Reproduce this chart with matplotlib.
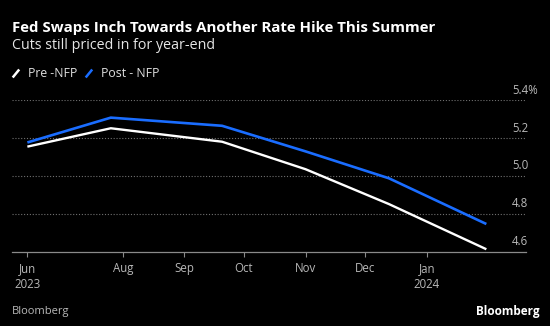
import matplotlib.pyplot as plt
import matplotlib.dates as mdates
import numpy as np
import pandas as pd

# FOMC meeting dates and implied policy rate (%)
meetings = ['2023-06-14', '2023-07-26', '2023-09-20', '2023-11-01', '2023-12-13', '2024-01-31']
pre_nfp = [5.154, 5.251, 5.180, 5.035, 4.851, 4.613]
post_nfp = [5.176, 5.307, 5.264, 5.129, 4.987, 4.746]

tick_dates = ['2023-06-14', '2023-08-01', '2023-09-01', '2023-10-01', '2023-11-01', '2023-12-01', '2024-01-01']
tick_labels = ['Jun\n2023', 'Aug', 'Sep', 'Oct', 'Nov', 'Dec', 'Jan\n2024']
y_levels = [4.6, 4.8, 5.0, 5.2, 5.4]
y_labels = ['4.6', '4.8', '5.0', '5.2', '5.4%']

BLUE = '#1a6dff'
GREY = '#b8b8b8'
plt.rcParams['font.family'] = ['Open Sans', 'DejaVu Sans']

dates = pd.to_datetime(meetings)

fig = plt.figure(figsize=(5.5, 3.26), dpi=100, facecolor='black')
ax = fig.add_axes([12.3 / 550, 74.3 / 326, 513.8 / 550, 151.7 / 326])
ax.set_facecolor('black')

ax.plot(dates, pre_nfp, color='white', lw=1.7, solid_capstyle='butt', zorder=3)
ax.plot(dates, post_nfp, color=BLUE, lw=1.9, solid_capstyle='butt', zorder=3)

ax.set_xlim(pd.Timestamp('2023-06-06 10:00'), pd.Timestamp('2024-02-20'))
ax.set_ylim(4.6, 5.4)

for s in ['top', 'right', 'left']:
    ax.spines[s].set_visible(False)
ax.spines['bottom'].set_color('#8a8a8a')
ax.spines['bottom'].set_linewidth(0.9)

ax.set_xticks(pd.to_datetime(tick_dates))
ax.set_xticklabels(tick_labels, color=GREY, fontsize=8.3, linespacing=1.25)
ax.tick_params(axis='x', direction='out', length=3.6, width=0.8, color='#8a8a8a', pad=4)

ax.set_yticks(y_levels[1:])
ax.tick_params(axis='y', length=0, labelleft=False)
ax.yaxis.grid(True, color='#707070', linestyle=(0, (1, 1.6)), linewidth=0.8)

for v, lab in zip(y_levels, y_labels):
    ax.annotate(lab, xy=(0.9726, v), xycoords=ax.get_yaxis_transform(),
                xytext=(0, 4.6), textcoords='offset points',
                ha='left', va='baseline', color=GREY, fontsize=8.3,
                annotation_clip=False)

# header
fig.text(12.3 / 550, 1 - 31.7 / 326, 'Fed Swaps Inch Towards Another Rate Hike This Summer',
         color='white', fontsize=10.85, fontweight='bold', va='baseline', ha='left')
fig.text(12.3 / 550, 1 - 49.3 / 326, 'Cuts still priced in for year-end',
         color='#e6e6e6', fontsize=10.3, va='baseline', ha='left')

# legend
for x0, col, lab in [(12.7, 'white', 'Pre -NFP'), (85.7, BLUE, 'Post - NFP')]:
    fig.add_artist(plt.Line2D([x0 / 550, (x0 + 6.5) / 550], [1 - 77.5 / 326, 1 - 69.5 / 326],
                              color=col, lw=1.8, solid_capstyle='butt'))
    fig.text((x0 + 15.5) / 550, 1 - 77.3 / 326, lab, color='#e0e0e0', fontsize=8.8,
             va='baseline', ha='left')

# footer
fig.text(12.3 / 550, 1 - 314 / 326, 'Bloomberg', color=GREY, fontsize=8, va='baseline', ha='left')
fig.text(540 / 550, 1 - 315 / 326, 'Bloomberg', color='white', fontsize=8.5, fontweight='bold',
         va='baseline', ha='right')

fig.savefig('out.png', dpi=100, facecolor='black')
